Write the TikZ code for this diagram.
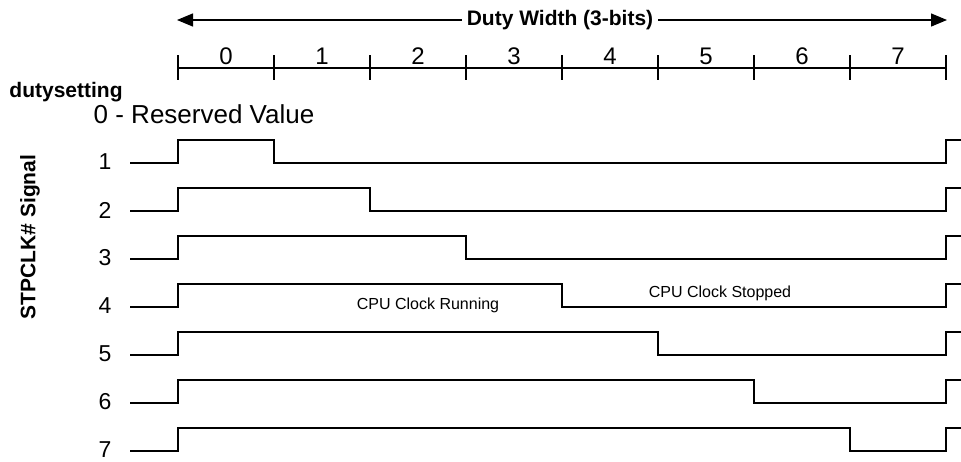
\documentclass[tikz,border=0pt]{standalone}
\usepackage{fontspec}
\setmainfont{Liberation Sans}
\usetikzlibrary{arrows.meta}
\tikzset{
  wave/.style = {color=#1, line width=1.6pt, line join=miter},
  ruler/.style = {color=#1, line width=1.4pt},
  dimline/.style = {color=#1, line width=1.4pt, -{Triangle[length=16pt,width=13pt]}},
  bigtxt/.style = {font=\fontsize{26}{30}\selectfont},
  rowtxt/.style = {font=\fontsize{23}{27}\selectfont},
  digittxt/.style = {font=\fontsize{24}{28}\selectfont},
  boldtxt/.style = {font=\bfseries\fontsize{21}{25}\selectfont},
  smalltxt/.style = {font=\fontsize{16}{19}\selectfont}
}

\begin{document}
\begin{tikzpicture}[x=1pt,y=-1pt]

    \useasboundingbox (0,0) rectangle (961,461);

    % Duty width arrow
    \node[boldtxt, inner xsep=5pt] (title) at (560,20) {Duty Width (3-bits)};
    \coordinate (dwL) at (177,20);
    \coordinate (dwR) at (947,20);
    \draw[dimline={black}] (title.west) -- (dwL);
    \draw[dimline={black}] (title.east) -- (dwR);

    % Ruler
    \draw[ruler={black}] (178,68) -- (946,68);
    \foreach \i in {0,...,8} {
        \draw[ruler={black}] (178+96*\i,55) -- (178+96*\i,80);
    }
    \foreach \i in {0,...,7} {
        \node[digittxt] (bit\i) at (226+96*\i,56) {\i};
    }

    % Labels
    \node[boldtxt, anchor=base] (setting) at (66,97) {dutysetting};
    \node[bigtxt, anchor=base] (reserved) at (204,123) {0 - Reserved Value};
    \node[boldtxt, rotate=90] (signal) at (30,237) {STPCLK\# Signal};

    % Waveforms
    \foreach \k in {1,...,7} {
        \pgfmathsetmacro{\lo}{163+48*(\k-1)}
        \pgfmathsetmacro{\hi}{140+48*(\k-1)}
        \pgfmathsetmacro{\fall}{178+96*\k}
        \node[rowtxt] (row\k) at (105,\lo-1) {\k};
        \draw[wave={black}] (130,\lo) -- (178,\lo) -- (178,\hi) -- (\fall,\hi)
            -- (\fall,\lo) -- (946,\lo) -- (946,\hi) -- (962,\hi);
    }

    % Clock state
    \node[smalltxt, anchor=base] (running) at (428,309) {CPU Clock Running};
    \node[smalltxt, anchor=base] (stopped) at (720,297) {CPU Clock Stopped};

\end{tikzpicture}
\end{document}
